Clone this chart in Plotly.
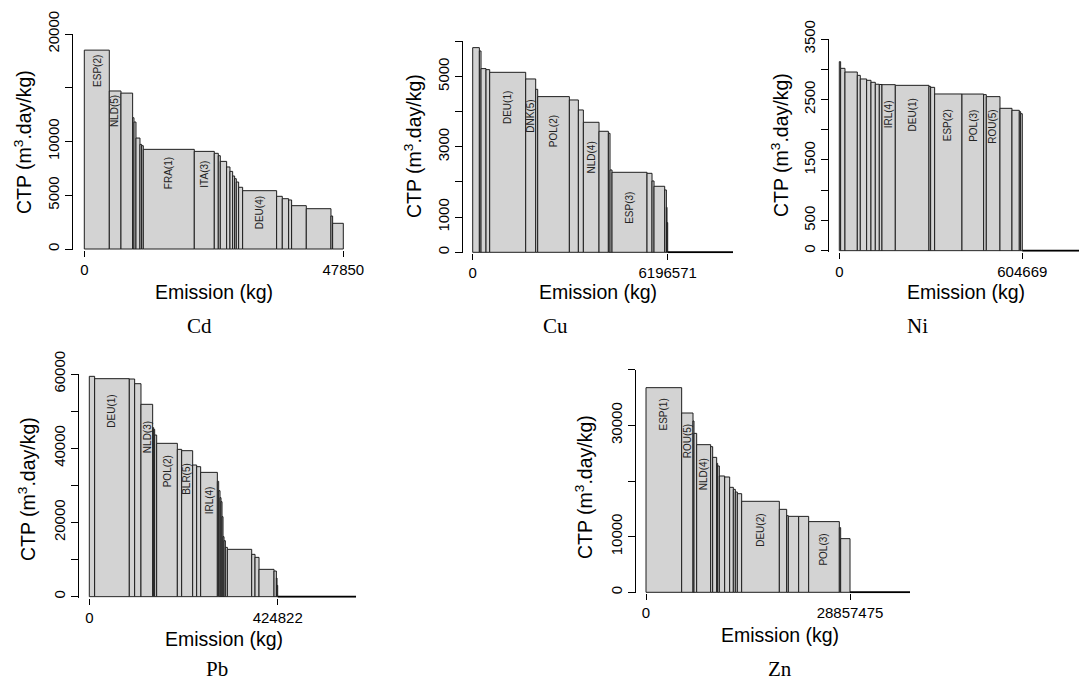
import plotly.graph_objects as go

W, H = 1079, 688

# ---------------- data ----------------
cd_emission = [4620, 2155, 2155, 246, 370, 739, 308, 308, 9420, 3695, 739, 370, 1170, 616, 493,
               370, 308, 431, 739, 6280, 1047, 1170, 554, 2710, 4557, 308, 1972]
cd_ctp = [18500, 14700, 14500, 12210, 11810, 10320, 9730, 9610, 9270, 9080, 8900, 8680, 8150, 7630,
          7220, 6790, 6540, 6230, 5740, 5425, 4900, 4680, 4560, 4030, 3750, 3070, 2390]
cd_label_idx = [0, 1, 8, 9, 19]
cd_label_text = ["ESP(2)", "NLD(5)", "FRA(1)", "ITA(3)", "DEU(4)"]
cd_zero_ctp_emission = 0
cd_total = 47850
cd_yticks = [0, 5000, 10000, 15000, 20000]
cd_yticklabels = ["0", "5000", "10000", "", "20000"]

cu_emission = [211850, 52960, 158890, 116520, 1143980, 317770, 63550, 1006280, 285990, 158890,
               497840, 296590, 52960, 63550, 1112200, 158890, 63550, 338960, 52960, 21180, 21211]
cu_ctp = [5820, 5725, 5223, 5194, 5118, 4929, 4635, 4427, 4332, 4047, 3697, 3441, 3384, 2341,
          2275, 2246, 2028, 1877, 1773, 1280, 844]
cu_label_idx = [4, 5, 7, 10, 14]
cu_label_text = ["DEU(1)", "DNK(5)", "POL(2)", "NLD(4)", "ESP(3)"]
cu_zero_ctp_emission = 2075000
cu_total = 6196571
cu_yticks = [0, 1000, 2000, 3000, 4000, 5000, 6000]
cu_yticklabels = ["0", "1000", "", "3000", "", "5000", ""]

ni_emission = [4406, 14318, 40752, 9913, 20927, 14318, 14318, 13217, 8811, 44056, 111241, 5507,
               13217, 90315, 71591, 8811, 45157, 39650, 24231, 4406, 5507]
ni_ctp = [3125, 3015, 2954, 2899, 2839, 2817, 2784, 2752, 2748, 2745, 2734, 2717, 2701, 2591,
          2590, 2580, 2547, 2354, 2321, 2299, 2265]
ni_label_idx = [9, 10, 13, 14, 16]
ni_label_text = ["IRL(4)", "DEU(1)", "ESP(2)", "POL(3)", "ROU(5)"]
ni_zero_ctp_emission = 240000
ni_total = 604669
ni_yticks = [0, 500, 1000, 1500, 2000, 2500, 3000, 3500]
ni_yticklabels = ["0", "500", "", "1500", "", "2500", "", "3500"]

pb_emission = [12030, 78198, 12030, 14286, 26317, 2256, 2256, 4511, 46618, 9775, 24813, 9023, 9023,
               37595, 3008, 3008, 2256, 2256, 2256, 2256, 3008, 4511, 54889, 7519, 9023, 33836,
               5263, 1504, 1498]
pb_ctp = [59370, 58740, 58650, 57390, 51830, 45540, 45090, 43560, 41320, 39700, 39340, 35480, 35030,
          33500, 31080, 28560, 26680, 25600, 21560, 16170, 15090, 13290, 12760, 11410, 10600, 7370,
          6920, 5030, 3050]
pb_label_idx = [1, 4, 8, 10, 13]
pb_label_text = ["DEU(1)", "NLD(3)", "POL(2)", "BLR(5)", "IRL(4)"]
pb_zero_ctp_emission = 176600
pb_total = 424822
pb_yticks = [0, 10000, 20000, 30000, 40000, 50000, 60000]
pb_yticklabels = ["0", "", "20000", "", "40000", "", "60000"]

zn_emission = [5045000, 1603000, 141500, 377200, 1980400, 282900, 565800, 141500, 235800, 754400,
               707300, 518700, 282900, 282900, 613000, 5328300, 1037400, 235800, 1461700, 1414600,
               4338100, 188600, 1320675]
zn_ctp = [36770, 32220, 30780, 28560, 26530, 26170, 24250, 23170, 22700, 20900, 20720, 18860, 18500,
          18020, 17720, 16350, 14910, 13770, 13650, 13640, 12700, 11620, 9640]
zn_label_idx = [0, 1, 4, 15, 20]
zn_label_text = ["ESP(1)", "ROU(5)", "NLD(4)", "DEU(2)", "POL(3)"]
zn_zero_ctp_emission = 8487000
zn_total = 28857475
zn_yticks = [0, 10000, 20000, 30000, 40000]
zn_yticklabels = ["0", "10000", "", "30000", ""]

metal_names = ["Cd", "Cu", "Ni", "Pb", "Zn"]

# ---------------- layout geometry (pixels) ----------------
geom = {
    "Cd": dict(ax_left=73.3, x0=84.3, xt=343.3, right=354, y0=249.0, ytop=34.0,
               label_off=[21, 20, 24, 23, 22], cap=(199, 326), xt_c=(214, 292), yt_c=(23, 142)),
    "Cu": dict(ax_left=462.7, x0=472.7, xt=667.7, right=736, y0=252.3, ytop=41.3,
               label_off=[35, 37, 35, 35, 36], cap=(555, 326), xt_c=(598, 292), yt_c=(413, 146)),
    "Ni": dict(ax_left=829.3, x0=839.3, xt=1022.3, right=1079, y0=250.7, ytop=39.0,
               label_off=[30, 30, 31, 32, 30], cap=(917, 326), xt_c=(966, 292), yt_c=(780, 145)),
    "Pb": dict(ax_left=78.5, x0=89.3, xt=277.7, right=362, y0=596.7, ytop=374.0,
               label_off=[32, 33, 28, 28, 28], cap=(217, 669), xt_c=(224, 639), yt_c=(27, 489)),
    "Zn": dict(ax_left=635.7, x0=646.0, xt=850.0, right=916, y0=592.3, ytop=369.7,
               label_off=[27, 28, 30, 29, 28], cap=(780, 669), xt_c=(780, 635), yt_c=(584, 487)),
}

panels = {
    "Cd": (cd_emission, cd_ctp, cd_label_idx, cd_label_text, cd_zero_ctp_emission, cd_total, cd_yticks, cd_yticklabels),
    "Cu": (cu_emission, cu_ctp, cu_label_idx, cu_label_text, cu_zero_ctp_emission, cu_total, cu_yticks, cu_yticklabels),
    "Ni": (ni_emission, ni_ctp, ni_label_idx, ni_label_text, ni_zero_ctp_emission, ni_total, ni_yticks, ni_yticklabels),
    "Pb": (pb_emission, pb_ctp, pb_label_idx, pb_label_text, pb_zero_ctp_emission, pb_total, pb_yticks, pb_yticklabels),
    "Zn": (zn_emission, zn_ctp, zn_label_idx, zn_label_text, zn_zero_ctp_emission, zn_total, zn_yticks, zn_yticklabels),
}

SANS = "Liberation Sans, Arial, sans-serif"
SERIF = "Liberation Serif, Times New Roman, serif"

fig = go.Figure()
layout = dict(width=W, height=H, margin=dict(l=0, r=0, t=0, b=0, pad=0), autosize=False,
              paper_bgcolor="white", plot_bgcolor="white", showlegend=False,
              barmode="overlay", annotations=[])

for i, name in enumerate(metal_names, start=1):
    em, ctp, lidx, ltxt, tail, total, yt, ytl = panels[name]
    g = geom[name]
    xs = "" if i == 1 else str(i)
    xa, ya = "x" + xs, "y" + xs

    lefts, acc = [], 0
    for w in em:
        lefts.append(acc)
        acc += w
    centers = [l + w / 2 for l, w in zip(lefts, em)]

    fig.add_trace(go.Bar(x=centers, y=ctp, width=em, base=0, xaxis=xa, yaxis=ya,
                         marker=dict(color="#d3d3d3", line=dict(color="#1e1e1e", width=1)),
                         hoverinfo="skip"))
    if tail > 0:
        fig.add_trace(go.Scatter(x=[acc, acc + tail], y=[0, 0], mode="lines", xaxis=xa, yaxis=ya,
                                 line=dict(color="black", width=2), hoverinfo="skip"))

    kx = total / (g["xt"] - g["x0"])
    right = min(g["right"], W)
    xrange = [(g["ax_left"] - g["x0"]) * kx, (right - g["x0"]) * kx]
    ky = yt[-1] / (g["y0"] - g["ytop"])
    yrange = [-1.0 * ky, yt[-1]]

    layout["xaxis" + xs] = dict(domain=[g["ax_left"] / W, right / W], range=xrange, anchor=ya,
                                showgrid=False, zeroline=False, showline=False, automargin=False,
                                ticks="outside", ticklen=6, tickwidth=1, tickcolor="black",
                                tickmode="array", tickvals=[0, total], ticktext=["0", str(total)],
                                tickfont=dict(family=SANS, size=15, color="black"))
    layout["yaxis" + xs] = dict(domain=[1 - (g["y0"] + 1) / H, 1 - g["ytop"] / H], range=yrange,
                                anchor=xa, showgrid=False, zeroline=False, showline=True,
                                automargin=False, linecolor="black", linewidth=1,
                                ticks="outside", ticklen=7, tickwidth=1, tickcolor="black",
                                tickmode="array", tickvals=yt, ticktext=ytl, tickangle=-90,
                                tickfont=dict(family=SANS, size=15, color="black"))

    for k, (j, t) in enumerate(zip(lidx, ltxt)):
        layout["annotations"].append(dict(
            x=centers[j], y=ctp[j] - g["label_off"][k] * ky, xref=xa, yref=ya, text=t,
            textangle=-90, showarrow=False, font=dict(family=SANS, size=10, color="#222")))

    layout["annotations"].append(dict(
        x=g["xt_c"][0] / W, y=1 - g["xt_c"][1] / H, xref="paper", yref="paper",
        text="Emission (kg)", showarrow=False, xanchor="center", yanchor="middle",
        font=dict(family=SANS, size=19.5, color="black")))
    layout["annotations"].append(dict(
        x=g["yt_c"][0] / W, y=1 - g["yt_c"][1] / H, xref="paper", yref="paper",
        text="CTP (m<sup>3</sup>.day/kg)", textangle=-90, showarrow=False,
        xanchor="center", yanchor="middle",
        font=dict(family=SANS, size=19.5, color="black")))
    layout["annotations"].append(dict(
        x=g["cap"][0] / W, y=1 - g["cap"][1] / H, xref="paper", yref="paper",
        text=name, showarrow=False, xanchor="center", yanchor="middle",
        font=dict(family=SERIF, size=21, color="black")))

fig.update_layout(**layout)
fig.write_html("out.html")
